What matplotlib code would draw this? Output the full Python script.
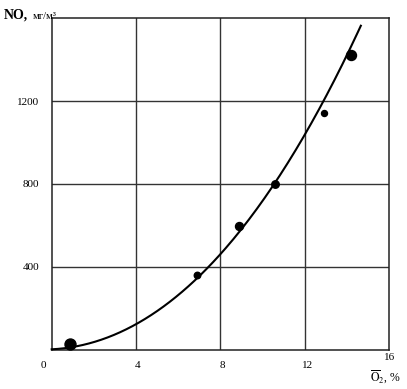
import numpy as np
import matplotlib
matplotlib.use("Agg")
import matplotlib.pyplot as plt
import matplotlib.transforms as mtrans

# Measured points (O2 %, NO mg/m3)
o2_points = [0.87, 6.87, 8.89, 10.58, 12.92, 14.2]
no_points = [29, 360, 596, 798, 1141, 1423]
point_sizes = [11, 6.5, 8, 7.5, 6, 10]  # marker diameters (px-ish)

# Fitted curve
curve_x = [0, 2.3, 4, 6.1, 8, 10, 10.6, 12, 12.8, 14.66]
curve_y = [0, 51, 131, 272, 452, 721, 798, 1041, 1200, 1554]

x_ticks = [0, 4, 8, 12]
x_tick_labels = ["0", "4", "8", "12"]
y_ticks = [400, 800, 1200]
y_tick_labels = ["400", "800", "1200"]

plt.rcParams['font.family'] = ['Liberation Serif', 'DejaVu Serif']
plt.rcParams['mathtext.fontset'] = 'stix'

fig = plt.figure(figsize=(4.07, 3.89), dpi=100)
ax = fig.add_axes([0.127, 0.1003, 0.829, 0.8534])
ax.set_xlim(0, 16)
ax.set_ylim(0, 1600)

for x in x_ticks[1:]:
    ax.axvline(x, color='#333333', lw=1.0, zorder=1)
for y in y_ticks:
    ax.axhline(y, color='#333333', lw=1.0, zorder=1)

coef = np.polyfit(curve_x, curve_y, 3)
xs = np.linspace(curve_x[0], curve_x[-1], 200)
ys = np.polyval(coef, xs)
ax.plot(xs, ys, color='black', lw=1.5, zorder=3, clip_on=False)

for x, y, s in zip(o2_points, no_points, point_sizes):
    ax.plot(x, y, 'o', color='black', ms=s * 0.72, zorder=4, clip_on=False)

for sp in ax.spines.values():
    sp.set_color('#222222')
    sp.set_linewidth(1.1)

ax.set_xticks(x_ticks)
ax.set_xticklabels(x_tick_labels, fontsize=8)
ax.set_yticks(y_ticks)
ax.set_yticklabels(y_tick_labels, fontsize=8)
ax.tick_params(axis='x', length=0, pad=8)
ax.tick_params(axis='y', direction='in', length=0, pad=9)
offsets = [-8, 2, 2, 3]
for lab, dx in zip(ax.get_xticklabels(), offsets):
    lab.set_transform(lab.get_transform() + mtrans.ScaledTranslation(dx / 100, 0, fig.dpi_scale_trans))

fig.text(390 / 407, 1 - 357 / 389, "16", fontsize=8, ha='center', va='center')
fig.text(385 / 407, 1 - 377 / 389, r'$\overline{\mathrm{O}}_2$, %', fontsize=8.5, ha='center', va='center')

fig.text(4 / 407, 1 - 19 / 389, "NO,", fontsize=10, fontweight='bold', ha='left', va='baseline')
fig.text(33 / 407, 1 - 19 / 389, "мг/м³", fontsize=7.5, ha='left', va='baseline')

fig.savefig("out.png", dpi=100)
